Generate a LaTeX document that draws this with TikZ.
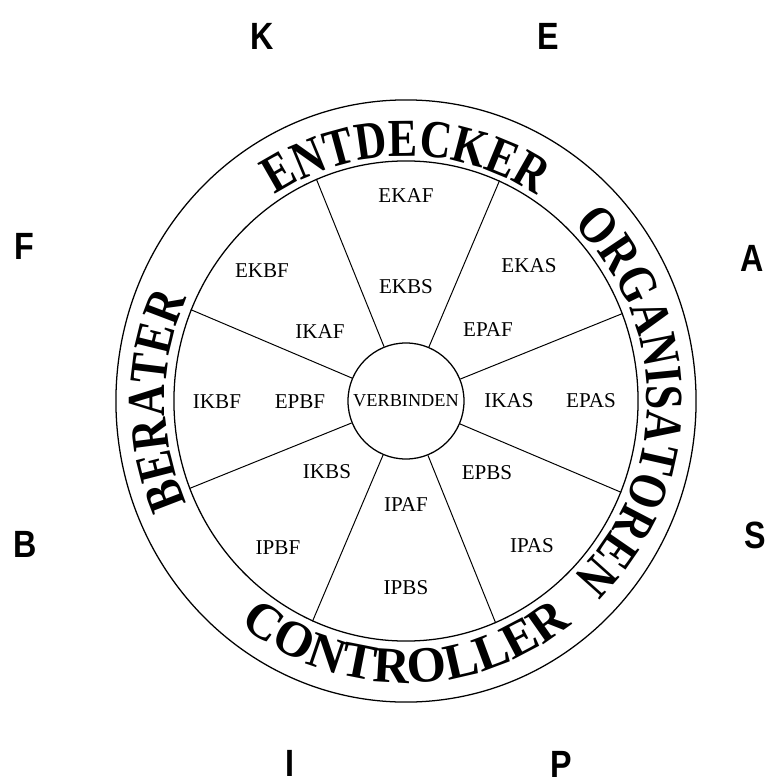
\documentclass[tikz,border=0pt]{standalone}
\usepackage{fontspec}
\setmainfont{Liberation Serif}
\newfontfamily\lettersans{Liberation Sans}
\newfontfamily\ringfont[FakeStretch=0.82]{Liberation Serif}
\usepackage{tikz}
\usetikzlibrary{shapes.geometric, decorations.text}

\begin{document}
\begin{tikzpicture}[
    x=0.025cm, y=0.025cm,
    rim/.style={draw, ellipse, line width=0.9pt, inner sep=0pt},
    spoke/.style={line width=0.7pt},
    cell/.style={font=\fontsize{15}{15}\selectfont, inner sep=0pt},
    axis/.style={font=\lettersans\bfseries\fontsize{27}{27}\selectfont, xscale=0.85, inner sep=0pt},
    ringtext/.style={decorate, decoration={text along path, text align=center, text={|\ringfont\fontsize{38}{38}\selectfont\bfseries|#1}}},
    bottomtext/.style={decorate, decoration={text along path, text align=center, text={|\fontsize{36}{36}\selectfont\bfseries|#1}}}
]
    \useasboundingbox (-406,-382) rectangle (365,401);

    \node[rim, minimum width=14.5cm, minimum height=15.05cm] (outer) at (0,0) {};
    \node[rim, minimum width=11.6cm, minimum height=12cm] (wheel) at (0,0) {};
    \node[draw, circle, line width=0.9pt, minimum size=2.9cm, inner sep=0pt, font=\fontsize{13}{13}\selectfont] (verb) at (0,0) {VERBINDEN};

    \draw[spoke] (verb.22.5) -- (wheel.22.5);
    \draw[spoke] (verb.67.5) -- (wheel.67.5);
    \draw[spoke] (verb.112.5) -- (wheel.112.5);
    \draw[spoke] (verb.157.5) -- (wheel.157.5);
    \draw[spoke] (verb.202.5) -- (wheel.202.5);
    \draw[spoke] (verb.247.5) -- (wheel.247.5);
    \draw[spoke] (verb.292.5) -- (wheel.292.5);
    \draw[spoke] (verb.337.5) -- (wheel.337.5);

    \path[ringtext=ENTDECKER] (150:241 and 245) arc[start angle=150, end angle=30, x radius=241, y radius=245];
    \path[ringtext=ORGANISATOREN] (75:241 and 245) arc[start angle=75, end angle=-75, x radius=241, y radius=245];
    \path[ringtext=BERATER] (240:241 and 245) arc[start angle=240, end angle=120, x radius=241, y radius=245];
    \path[bottomtext=CONTROLLER] (210:271 and 282) arc[start angle=210, end angle=330, x radius=271, y radius=282];

    \node[cell] (ekaf) at (0,205) {EKAF};
    \node[cell] (ekbs) at (0,114) {EKBS};
    \node[cell] (ekas) at (123,135) {EKAS};
    \node[cell] (epaf) at (82,71) {EPAF};
    \node[cell] (ikas) at (103,0) {IKAS};
    \node[cell] (epas) at (185,0) {EPAS};
    \node[cell] (epbs) at (81,-72) {EPBS};
    \node[cell] (ipas) at (126,-145) {IPAS};
    \node[cell] (ipaf) at (0,-104) {IPAF};
    \node[cell] (ipbs) at (0,-187) {IPBS};
    \node[cell] (ikbs) at (-79,-71) {IKBS};
    \node[cell] (ipbf) at (-128,-147) {IPBF};
    \node[cell] (epbf) at (-106,-1) {EPBF};
    \node[cell] (ikbf) at (-189,-1) {IKBF};
    \node[cell] (ikaf) at (-86,69) {IKAF};
    \node[cell] (ekbf) at (-144,130) {EKBF};

    \node[axis] (k) at (-144,365) {K};
    \node[axis] (e) at (142,365) {E};
    \node[axis] (f) at (-382,155) {F};
    \node[axis] (a) at (346,143) {A};
    \node[axis] (b) at (-381,-143) {B};
    \node[axis] (s) at (349,-134) {S};
    \node[axis] (i) at (-116,-362) {I};
    \node[axis] (p) at (155,-363) {P};
\end{tikzpicture}
\end{document}
